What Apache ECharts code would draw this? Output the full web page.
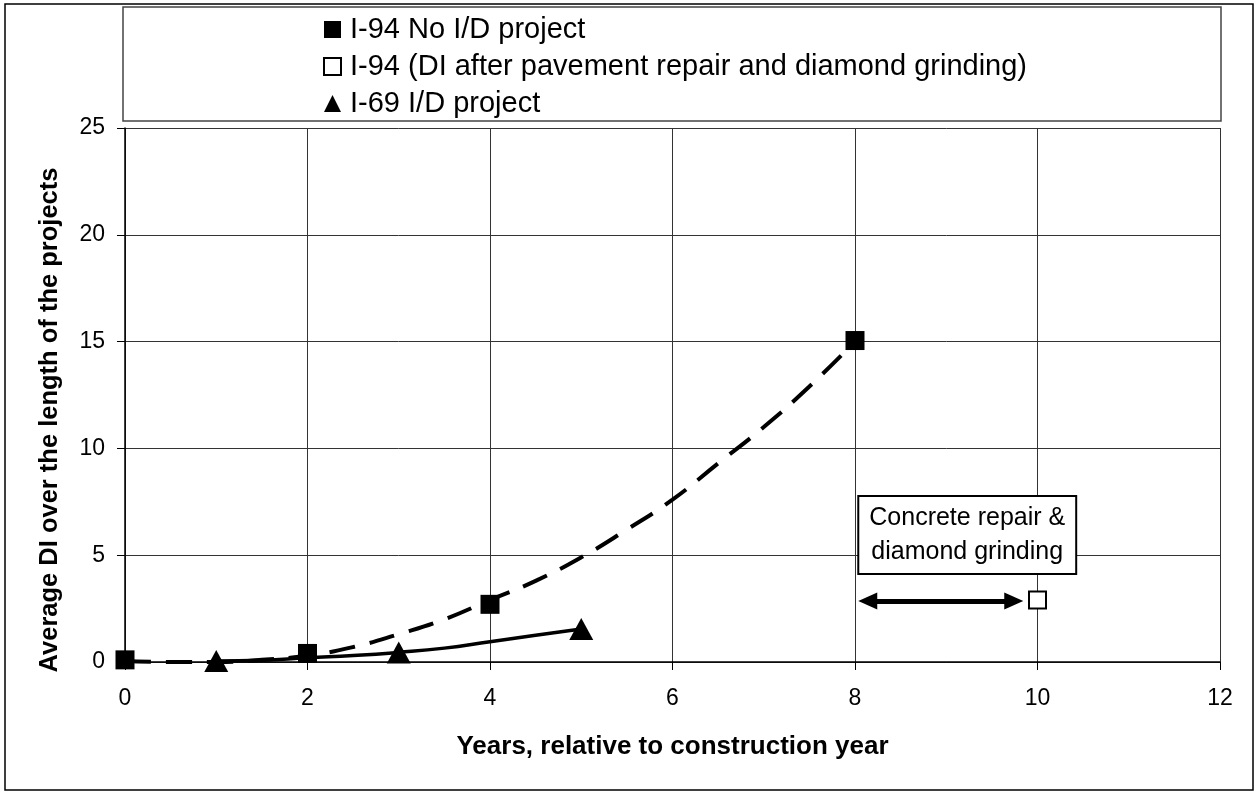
<!DOCTYPE html>
<html>
<head>
<meta charset="utf-8">
<script src="https://cdn.jsdelivr.net/npm/echarts@6/dist/echarts.min.js"></script>
<style>
  html, body { margin: 0; padding: 0; background: #fff; }
  #chart { width: 1257px; height: 792px; }
</style>
</head>
<body>
<div id="chart"></div>
<script>
// measured points
var i94Years = [0, 2, 4, 8];
var i94DI = [0.1, 0.4, 2.7, 15.05];
var i94RepairYears = [10];
var i94RepairDI = [2.9];
var i69Years = [1, 3, 5];
var i69DI = [0.05, 0.45, 1.55];

// trend lines
var i94TrendYears = [0, 0.5, 1, 1.5, 2, 2.5, 3, 3.5, 4, 4.5, 5, 5.5, 6, 6.5, 7, 7.5, 8];
var i94TrendDI = [0.05, 0.0, 0.0, 0.1, 0.3, 0.7, 1.3, 2.0, 2.9, 3.8, 4.9, 6.2, 7.6, 9.3, 11.0, 12.9, 15.0];
var i69TrendYears = [1, 1.5, 2, 2.5, 3, 3.5, 4, 4.5, 5];
var i69TrendDI = [0.05, 0.08, 0.2, 0.3, 0.45, 0.65, 0.95, 1.25, 1.55];

// annotation (arrow ends = centre of the arrow heads)
var arrowFrom = [8.14, 2.85];
var arrowTo = [9.74, 2.85];
var noteAt = [9.23, 5.95];
var noteText = 'Concrete repair &\ndiamond grinding';

function pairs(xs, ys) {
    return xs.map(function (x, i) { return [x, ys[i]]; });
}

var FONT = '"Liberation Sans", Arial, sans-serif';
var myChart = echarts.init(document.getElementById('chart'));

var option = {
    animation: false,
    backgroundColor: '#fff',
    textStyle: { fontFamily: FONT, color: '#000' },
    graphic: [
        { // outer frame
            type: 'rect', z: 0,
            shape: { x: 5, y: 4, width: 1248, height: 786 },
            style: { fill: 'none', stroke: '#000', lineWidth: 1.5 }
        },
        { // legend box
            type: 'rect', z: 0,
            shape: { x: 123, y: 7, width: 1098, height: 114 },
            style: { fill: '#fff', stroke: '#444', lineWidth: 1.5 }
        }
    ],
    legend: {
        orient: 'vertical',
        left: 318,
        top: 10,
        itemGap: 8,
        itemWidth: 17,
        itemHeight: 17,
        data: ['I-94 No I/D project', 'I-94 (DI after pavement repair and diamond grinding)', 'I-69 I/D project'],
        textStyle: { fontSize: 29, color: '#000', fontFamily: FONT, padding: [0, 0, 0, 4] }
    },
    grid: { left: 125, right: 37, top: 128, bottom: 130, containLabel: false },
    xAxis: {
        type: 'value',
        min: 0, max: 12, interval: 2,
        name: 'Years, relative to construction year',
        nameLocation: 'middle',
        nameGap: 72,
        nameTextStyle: { fontSize: 26, fontWeight: 'bold', color: '#000', fontFamily: FONT },
        axisLine: { show: true, onZero: false, lineStyle: { color: '#000', width: 1.5 } },
        axisTick: { show: true, length: 8, lineStyle: { color: '#000' } },
        axisLabel: { fontSize: 23, color: '#000', margin: 25, fontFamily: FONT },
        splitLine: { show: true, lineStyle: { color: '#333', width: 1 } }
    },
    yAxis: {
        type: 'value',
        min: 0, max: 25, interval: 5,
        name: 'Average DI over the length of the projects',
        nameLocation: 'middle',
        nameGap: 62,
        nameTextStyle: { fontSize: 25.5, fontWeight: 'bold', color: '#000', fontFamily: FONT, padding: [0, 50, 0, 0] },
        axisLine: { show: true, lineStyle: { color: '#000', width: 1.5 } },
        axisTick: { show: true, length: 8, lineStyle: { color: '#000' } },
        axisLabel: { fontSize: 23, color: '#000', margin: 20, fontFamily: FONT },
        splitLine: { show: true, lineStyle: { color: '#333', width: 1 } }
    },
    series: [
        {
            name: 'I-94 trend',
            type: 'line',
            data: pairs(i94TrendYears, i94TrendDI),
            smooth: true,
            showSymbol: false,
            lineStyle: { color: '#000', width: 4, type: [26, 15] },
            z: 2
        },
        {
            name: 'I-69 trend',
            type: 'line',
            data: pairs(i69TrendYears, i69TrendDI),
            smooth: true,
            showSymbol: false,
            lineStyle: { color: '#000', width: 3.5 },
            z: 2
        },
        {
            name: 'I-94 No I/D project',
            type: 'scatter',
            data: pairs(i94Years, i94DI),
            symbol: 'rect',
            symbolSize: 19,
            itemStyle: { color: '#000', opacity: 1 },
            z: 3
        },
        {
            name: 'I-94 (DI after pavement repair and diamond grinding)',
            type: 'scatter',
            data: pairs(i94RepairYears, i94RepairDI),
            symbol: 'rect',
            symbolSize: 17,
            itemStyle: { color: '#fff', borderColor: '#000', borderWidth: 2, opacity: 1 },
            z: 3,
            markLine: {
                silent: true,
                symbol: ['triangle', 'triangle'],
                symbolSize: [17, 19],
                label: { show: false },
                lineStyle: { color: '#000', width: 5, type: 'solid' },
                data: [[{ coord: arrowFrom }, { coord: arrowTo }]]
            },
            markPoint: {
                silent: true,
                symbol: 'rect',
                symbolSize: 1,
                itemStyle: { color: 'rgba(0,0,0,0)' },
                data: [{ coord: noteAt }],
                label: {
                    show: true,
                    position: 'inside',
                    formatter: noteText,
                    fontSize: 25,
                    lineHeight: 34,
                    color: '#000',
                    fontFamily: FONT,
                    backgroundColor: '#fff',
                    borderColor: '#000',
                    borderWidth: 2,
                    padding: [4, 10, 4, 10]
                }
            }
        },
        {
            name: 'I-69 I/D project',
            type: 'scatter',
            data: pairs(i69Years, i69DI),
            symbol: 'triangle',
            symbolSize: [24, 22],
            itemStyle: { color: '#000', opacity: 1 },
            z: 3
        }
    ]
};

myChart.setOption(option);
window.addEventListener('resize', function () { myChart.resize(); });
</script>
</body>
</html>
